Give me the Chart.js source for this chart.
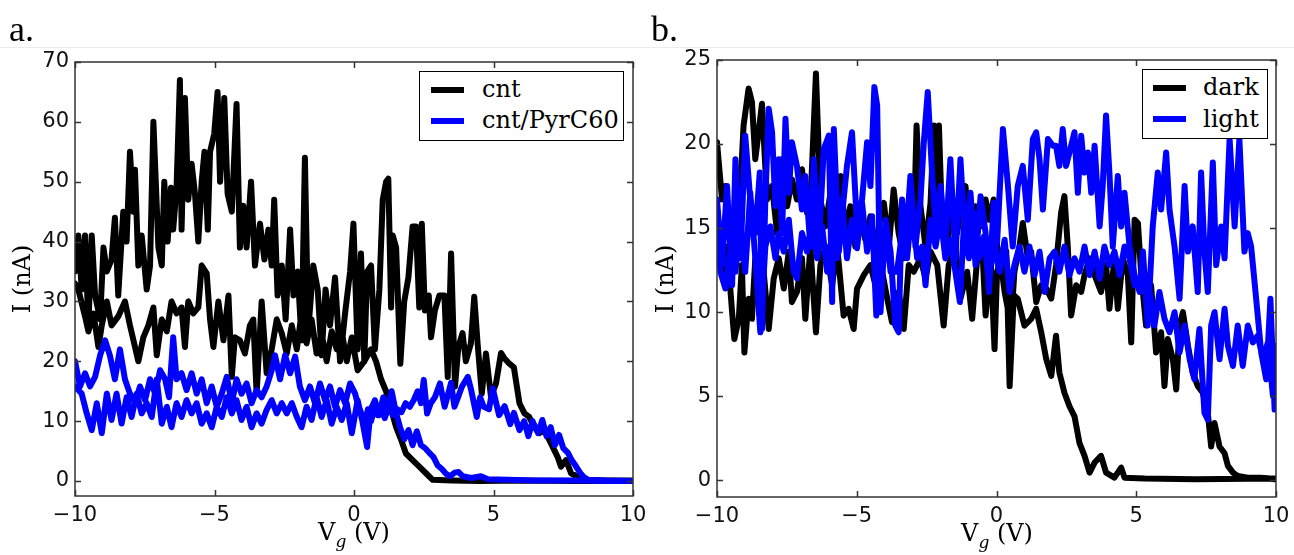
<!DOCTYPE html>
<html>
<head>
<meta charset="utf-8">
<title>I vs Vg sweeps</title>
<script src="https://cdn.jsdelivr.net/npm/chart.js@4.4.1/dist/chart.umd.min.js"></script>
<style>
  html, body { margin: 0; padding: 0; background: #fff; }
  #page { position: relative; width: 1294px; height: 555px; overflow: hidden; }
  canvas { position: absolute; top: 0; }
  .rule { position: absolute; left: 0; top: 47px; width: 1294px; height: 1px; background: #ececec; }
  .tag { position: absolute; font: 36px 'Liberation Serif', serif; line-height: 36px; color: #000; }
  .ylab, .xlab { position: absolute; font: 24px 'DejaVu Serif', serif; line-height: 24px; white-space: nowrap; color: #000; }
  .ylab { transform: translate(-50%, -50%) rotate(-90deg); }
  .xlab { transform: translateX(-50%); }
  .xlab i { font-size: 17px; position: relative; top: 7px; }
  .legend { position: absolute; background: #fff; border: 1px solid #000; box-sizing: border-box; }
  .legend .swatch { position: absolute; left: 11px; width: 33px; height: 6px; }
  .legend .txt { position: absolute; font: 24px 'DejaVu Serif', serif; line-height: 24px; white-space: nowrap; color: #000; }
</style>
</head>
<body>
<div id="page">
  <div class="rule"></div>
  <canvas id="chartA" width="647" height="555" style="left:0"></canvas>
  <canvas id="chartB" width="647" height="555" style="left:647px"></canvas>

  <div class="tag" style="left:9px;top:11px">a.</div>
  <div class="tag" style="left:651px;top:11px">b.</div>

  <div class="ylab" style="left:22px;top:279px">I (nA)</div>
  <div class="ylab" style="left:665px;top:279px">I (nA)</div>
  <div class="xlab" style="left:354px;top:520px">V<i>g</i> (V)</div>
  <div class="xlab" style="left:997px;top:521px">V<i>g</i> (V)</div>

  <div class="legend" style="left:419px;top:71px;width:205px;height:70px">
    <span class="swatch" style="top:15px;background:#000"></span>
    <span class="txt" style="left:62px;top:5px">cnt</span>
    <span class="swatch" style="top:46px;background:#0000ff"></span>
    <span class="txt" style="left:62px;top:36px">cnt/PyrC60</span>
  </div>
  <div class="legend" style="left:1142px;top:69px;width:126px;height:70px">
    <span class="swatch" style="left:10px;top:15px;background:#000"></span>
    <span class="txt" style="left:60px;top:5px">dark</span>
    <span class="swatch" style="left:10px;top:46px;background:#0000ff"></span>
    <span class="txt" style="left:60px;top:37px">light</span>
  </div>
</div>

<script>
// tick positions
const xTicks = [-10, -5, 0, 5, 10];
const aYTicks = [0, 10, 20, 30, 40, 50, 60, 70];
const bYTicks = [0, 5, 10, 15, 20, 25];

// panel a : [Vg (V), I (nA)] , sweep up then back down
const aCntUp = [
  [-10,35],[-9.88,41],[-9.76,32],[-9.64,41],[-9.52,26],[-9.40,41],[-9.28,31],[-9.10,27],[-8.98,39],[-8.86,35],
  [-8.69,37],[-8.57,44],[-8.45,31],[-8.27,45],[-8.15,40],[-8.03,55],[-7.91,45],[-7.85,52],[-7.73,36],[-7.61,41],
  [-7.43,32],[-7.31,36],[-7.19,60],[-7.01,39],[-6.89,36],[-6.80,50],[-6.68,40],[-6.56,49],[-6.48,42],[-6.36,49],
  [-6.24,67],[-6.18,42],[-6.06,64],[-5.94,47],[-5.82,53],[-5.70,48],[-5.58,40],[-5.46,50],[-5.36,55],[-5.24,42],
  [-5.16,55],[-5.01,58],[-4.89,65],[-4.80,50],[-4.65,64],[-4.53,48],[-4.38,45],[-4.21,63],[-4.09,39],[-3.97,46],
  [-3.85,39],[-3.69,50],[-3.55,36],[-3.37,43],[-3.21,37],[-3.07,42],[-2.95,36],[-2.86,47],[-2.74,31],[-2.59,36],
  [-2.45,27],[-2.29,42],[-2.17,31],[-2.02,35],[-1.88,23.5],[-1.76,54],[-1.64,25],[-1.46,36],[-1.30,32],[-1.16,21],
  [-1.02,32],[-0.86,26],[-0.68,34],[-0.50,20],[-0.32,28],[-0.14,35],[-0.02,43],[0.13,22],[0.25,38],[0.37,20],
  [0.47,35],[0.61,36],[0.75,22],[0.91,32],[1.03,47],[1.15,50],[1.23,50.5],[1.33,29],[1.39,41],[1.51,39],
  [1.66,19.6],[1.80,30],[1.95,34],[2.10,42.5],[2.22,42.5],[2.34,29],[2.43,43],[2.54,28.5],[2.68,31],[2.76,24],
  [2.90,28.5],[3.06,31],[3.24,31],[3.36,17.4],[3.48,38],[3.62,15.8],[3.74,22.4],[3.89,24.7],[4.01,20],[4.19,23],
  [4.31,30.8],[4.43,23],[4.58,14.6],[4.73,21.3],[4.91,14.1],[5.09,16.3],[5.27,21.4],[5.39,20.5],[5.57,19.6],[5.73,19],
  [5.93,13],[6.11,11.3],[6.28,10.7],[6.46,9],[6.64,8],[6.82,8.5],[7.06,6.3],[7.30,4],[7.42,2.4],[7.60,3.5],
  [7.78,1.3],[8.02,0.7],[8.26,0.2],[9.0,0.1],[10,0.1]
];
const aCntDown = [
  [-10,33],[-9.88,32],[-9.64,27.5],[-9.52,25],[-9.34,28],[-9.16,22.4],[-9.04,26],[-8.86,30],[-8.69,26],[-8.45,27.5],
  [-8.21,30],[-8.03,26],[-7.85,22.4],[-7.73,20],[-7.55,24],[-7.37,26],[-7.19,29],[-7.07,21],[-6.89,27],[-6.71,25],
  [-6.54,30],[-6.36,28],[-6.18,29],[-6.06,22.4],[-5.94,30],[-5.76,28],[-5.58,29],[-5.46,36],[-5.28,34.7],[-5.16,27],
  [-5.04,22.4],[-4.86,30],[-4.68,23.5],[-4.50,31],[-4.38,17.4],[-4.27,24],[-4.09,23.5],[-3.91,21.3],[-3.73,26],[-3.61,27],
  [-3.49,14.6],[-3.31,30],[-3.13,18],[-2.95,22],[-2.77,27],[-2.59,24.7],[-2.41,21.3],[-2.23,26],[-2.05,22],[-1.88,28],
  [-1.70,23],[-1.52,27],[-1.34,21.3],[-1.16,24.7],[-0.98,20],[-0.80,25],[-0.62,22],[-0.44,25],[-0.26,20],[-0.08,24],
  [0.13,18.5],[0.37,20],[0.61,22],[0.79,20],[0.97,17],[1.15,15],[1.33,12],[1.51,9],[1.68,7],[1.86,4.6],
  [2.10,3.5],[2.34,2.4],[2.58,1.3],[2.82,0.2],[3.5,0.1],[4.5,0],[6,0.1],[8,0],[10,0]
];
const aPyrUp = [
  [-10,20],[-9.82,15.8],[-9.64,18],[-9.46,15.8],[-9.28,17.4],[-9.10,21],[-8.92,23.5],[-8.75,21],[-8.57,17],[-8.39,22],
  [-8.21,17],[-8.03,14.6],[-7.85,13],[-7.67,15.8],[-7.49,13.5],[-7.31,17],[-7.13,14.6],[-6.95,18.5],[-6.77,17],[-6.63,14],
  [-6.48,24],[-6.36,17],[-6.18,18],[-6.00,15.2],[-5.82,18],[-5.64,14.6],[-5.46,17],[-5.28,13],[-5.10,15.8],[-4.92,12.4],
  [-4.74,14.6],[-4.56,17.4],[-4.38,13],[-4.21,17],[-4.03,14.6],[-3.85,16.3],[-3.67,13],[-3.49,15.2],[-3.31,14],[-3.13,15.8],
  [-2.95,18.5],[-2.83,21],[-2.65,17],[-2.47,21],[-2.29,18],[-2.11,20.8],[-1.94,15.8],[-1.76,13.5],[-1.58,15.8],[-1.40,13],
  [-1.22,16.3],[-1.04,13.5],[-0.86,15.8],[-0.68,12.4],[-0.50,15.2],[-0.32,13],[-0.14,16.3],[0.04,14.6],[0.13,13],[0.25,11.5],
  [0.37,9],[0.5,12],[0.61,10],[0.75,12.5],[0.85,11],[1.0,12.5],[1.1,10.5],[1.25,12.5],[1.4,11],[1.55,12],
  [1.7,11.5],[1.85,13],[2.0,12.4],[2.14,13.5],[2.28,15],[2.4,13],[2.5,16.9],[2.62,11.3],[2.75,13],[2.9,14],
  [3.08,16.3],[3.25,12.4],[3.48,16.4],[3.6,12.4],[3.73,14],[3.87,15.8],[4.08,17.4],[4.2,15.2],[4.4,10.7],[4.52,14],
  [4.65,12.4],[4.84,12],[4.97,15.5],[5.2,11],[5.4,12.5],[5.6,9.5],[5.73,11.4],[5.93,8.5],[6.1,10],[6.25,7.5],
  [6.4,10],[6.6,8],[6.75,10.2],[6.9,7.5],[7.05,9],[7.2,6],[7.35,7.7],[7.5,5.5],[7.67,4.7],[7.8,3.5],
  [7.95,2.5],[8.1,1.4],[8.25,0.6],[8.4,0.2],[9,0.1],[10,0]
];
const aPyrDown = [
  [-10,15.8],[-9.76,14.6],[-9.58,11.3],[-9.40,8.5],[-9.22,13],[-9.04,8],[-8.86,14.6],[-8.69,10.2],[-8.51,14.6],[-8.33,9.6],
  [-8.15,14],[-7.97,10.7],[-7.79,14.6],[-7.61,11.3],[-7.43,13],[-7.25,10.7],[-7.07,17],[-6.89,9.6],[-6.71,12.4],[-6.54,9],
  [-6.36,13],[-6.18,10.7],[-6.00,13.5],[-5.82,11.3],[-5.64,13],[-5.46,9.6],[-5.28,11.3],[-5.10,9],[-4.92,12.4],[-4.74,10.7],
  [-4.56,14],[-4.38,11.3],[-4.21,13.5],[-4.03,10.2],[-3.85,12.4],[-3.67,9],[-3.49,11.3],[-3.31,9.6],[-3.13,11.9],[-2.95,13.5],
  [-2.77,11.3],[-2.59,13],[-2.41,11.3],[-2.23,13],[-2.05,10.7],[-1.88,9],[-1.70,12.4],[-1.52,10.2],[-1.34,14],[-1.16,10.7],
  [-0.98,13.5],[-0.80,9.6],[-0.62,12.4],[-0.44,10.2],[-0.26,13],[-0.08,8],[0.13,13.5],[0.3,10],[0.47,5.7],[0.6,12],
  [0.75,13.5],[0.9,11],[1.05,14],[1.2,12],[1.35,15],[1.5,11.5],[1.65,9],[1.8,7],[1.95,8.5],[2.1,6],
  [2.25,8.3],[2.4,6],[2.55,5.5],[2.7,4.7],[2.85,4],[3.0,2.6],[3.15,2],[3.3,1.2],[3.45,0.8],[3.6,1.4],
  [3.75,1.5],[3.9,0.8],[4.2,0.5],[4.55,0.8],[4.8,0.3],[5.5,0.2],[6.5,0.1],[8,0.1],[9,0],[10,0]
];

// panel b
const bDarkUp = [
  [-10,20.1],[-9.82,16.7],[-9.70,17.5],[-9.52,13.9],[-9.34,15.5],[-9.16,17.5],[-9.05,21.1],[-8.87,23.3],[-8.75,22.5],[-8.63,19.1],
  [-8.54,20.3],[-8.39,22.4],[-8.21,16.7],[-8.03,17.5],[-7.85,14.7],[-7.67,19.1],[-7.49,16.3],[-7.32,17.9],[-7.14,16.7],[-6.96,18.5],
  [-6.78,15.9],[-6.63,17.5],[-6.46,24.2],[-6.30,16.7],[-6.12,15.1],[-5.94,17.1],[-5.76,15.5],[-5.58,18.1],[-5.41,14.7],[-5.23,16.3],
  [-5.05,13.9],[-4.87,15.5],[-4.69,14.3],[-4.51,15.7],[-4.33,13.6],[-4.15,15.7],[-4.03,16.5],[-3.85,13.9],[-3.68,17.3],[-3.50,14.7],
  [-3.32,13.2],[-3.14,15.5],[-2.96,14.7],[-2.86,21.1],[-2.72,16.3],[-2.54,13.9],[-2.36,16.5],[-2.24,21.1],[-2.12,17.2],[-2.06,21.1],[-1.95,15.5],
  [-1.77,13.9],[-1.59,16.7],[-1.41,14.7],[-1.23,16.7],[-1.11,17.5],[-0.93,13.9],[-0.75,16.3],[-0.57,15.1],[-0.39,16.7],[-0.27,15.5],
  [-0.10,16.7],[0.02,13.9],[0.11,13.5],[0.29,11.2],[0.52,9.2],[0.64,12.4],[0.82,13.9],[0.94,15.3],[1.12,13.2],[1.24,13.6],
  [1.42,10.6],[1.60,11.6],[1.78,11.4],[1.96,10.8],[2.13,12.8],[2.31,15.9],[2.43,16.9],[2.55,13.9],[2.67,9.8],[2.85,11.6],
  [3.03,11.2],[3.15,12.2],[3.33,13.2],[3.51,12.2],[3.74,11.2],[3.92,12.8],[4.04,10.2],[4.22,13.2],[4.34,10.2],[4.52,13.2],
  [4.70,12.2],[4.82,8.2],[4.94,15.5],[5.06,15.3],[5.18,12.2],[5.35,9.2],[5.53,11.6],[5.71,7.6],[5.89,8.8],[6.01,5.6],
  [6.13,8.4],[6.31,7.2],[6.43,5.4],[6.55,9.2],[6.67,10.0],[6.85,8.0],[7.02,6.4],[7.20,5.6],[7.38,5.2],[7.56,4.0],
  [7.68,2.0],[7.80,3.4],[7.98,2.0],[8.16,1.6],[8.28,0.85],[8.46,0.45],[8.63,0.25],[8.99,0.15],[9.47,0.15],[9.95,0.06],[10,0.1]
];
const bDarkDown = [
  [-10,15.5],[-9.82,12.4],[-9.64,13.9],[-9.46,10.0],[-9.38,8.4],[-9.22,9.6],[-9.11,12.8],[-9.02,7.6],[-8.87,10.8],[-8.75,9.6],
  [-8.63,13.2],[-8.47,9.8],[-8.33,12.4],[-8.15,9.0],[-7.97,12.0],[-7.79,13.2],[-7.61,11.4],[-7.43,13.6],[-7.32,10.6],[-7.14,11.2],
  [-6.96,13.2],[-6.84,9.6],[-6.66,13.9],[-6.46,8.8],[-6.30,12.8],[-6.12,13.9],[-5.88,11.6],[-5.70,13.9],[-5.47,9.8],[-5.29,10.2],
  [-5.11,9.0],[-4.99,11.4],[-4.75,12.2],[-4.51,12.8],[-4.27,11.2],[-4.09,12.4],[-3.91,10.8],[-3.74,9.4],[-3.50,11.2],[-3.32,9.0],
  [-3.14,12.8],[-2.96,12.4],[-2.72,13.2],[-2.54,12.0],[-2.36,13.6],[-2.12,12.8],[-1.89,9.2],[-1.71,12.8],[-1.47,13.9],[-1.29,10.8],
  [-1.05,12.4],[-0.87,9.6],[-0.69,13.2],[-0.51,13.9],[-0.39,9.8],[-0.21,13.2],[-0.07,7.8],[0.02,12.4],[0.17,13.2],[0.35,13.6],
  [0.47,5.6],[0.62,11.0],[0.76,10.8],[1.00,9.2],[1.24,9.6],[1.42,10.2],[1.60,8.8],[1.78,7.2],[1.96,6.2],[2.13,8.6],
  [2.25,6.4],[2.43,5.2],[2.61,4.4],[2.79,3.8],[2.97,2.2],[3.15,1.45],[3.33,0.45],[3.51,1.05],[3.74,1.45],[3.92,0.45],
  [4.22,0.15],[4.46,0.75],[4.58,0.15],[5.3,0.1],[7.1,0.05],[10,0.1]
];
const bLightUp = [
  [-10,16.7],[-9.82,12.8],[-9.64,17.5],[-9.46,11.6],[-9.34,19.1],[-9.16,13.2],[-8.99,20.5],[-8.81,16.7],[-8.63,14.7],[-8.47,18.3],
  [-8.39,9.0],[-8.27,16.7],[-8.15,22.1],[-8.03,20.7],[-7.91,16.3],[-7.79,19.1],[-7.67,14.7],[-7.55,21.5],[-7.43,17.1],[-7.32,20.1],
  [-7.14,18.7],[-6.96,16.1],[-6.84,18.1],[-6.66,13.9],[-6.54,19.1],[-6.36,13.9],[-6.18,19.7],[-6.00,20.5],[-5.88,10.6],[-5.82,20.9],
  [-5.64,13.6],[-5.47,16.7],[-5.35,18.7],[-5.17,20.7],[-4.99,15.1],[-4.81,16.7],[-4.63,20.1],[-4.51,17.5],[-4.37,23.4],[-4.27,22.3],
  [-4.15,10.0],[-3.97,15.5],[-3.79,13.6],[-3.62,9.2],[-3.50,8.8],[-3.38,16.7],[-3.26,13.9],[-3.08,18.1],[-2.90,13.9],[-2.72,16.7],
  [-2.60,20.1],[-2.46,23.1],[-2.30,18.1],[-2.18,15.1],[-2.00,17.5],[-1.83,13.9],[-1.65,19.1],[-1.47,13.2],[-1.29,19.1],[-1.11,13.9],
  [-0.93,17.1],[-0.75,12.8],[-0.57,16.9],[-0.39,14.7],[-0.27,11.2],[-0.10,16.5],[0.02,14.1],[0.23,20.9],[0.41,17.5],[0.58,13.9],
  [0.76,17.5],[0.94,18.7],[1.12,15.5],[1.30,20.3],[1.42,20.7],[1.54,19.1],[1.66,16.1],[1.84,20.3],[2.02,19.9],[2.13,19.9],
  [2.25,18.7],[2.37,20.9],[2.49,18.7],[2.61,19.5],[2.79,20.7],[2.91,17.1],[3.03,20.5],[3.15,18.3],[3.27,19.5],[3.39,17.1],
  [3.51,19.9],[3.69,15.1],[3.80,17.5],[3.92,21.7],[4.04,18.3],[4.16,13.9],[4.34,18.1],[4.46,15.1],[4.58,17.1],[4.76,13.9],
  [4.94,12.2],[5.12,11.2],[5.24,13.6],[5.41,9.2],[5.59,15.1],[5.77,18.3],[5.89,16.1],[6.07,19.5],[6.19,16.1],[6.37,13.9],
  [6.55,10.8],[6.73,17.5],[6.85,13.6],[7.02,15.1],[7.20,11.2],[7.32,18.3],[7.44,13.6],[7.56,11.2],[7.74,18.9],[7.86,12.8],
  [8.04,15.1],[8.16,13.2],[8.34,20.3],[8.52,15.1],[8.69,20.3],[8.87,13.6],[8.99,14.7],[9.11,13.9],[9.29,10.8],[9.47,7.6],
  [9.65,6.0],[9.80,10.8],[9.95,4.2]
];
const bLightDown = [
  [-10,15.5],[-9.88,12.4],[-9.70,11.4],[-9.52,13.9],[-9.34,12.4],[-9.16,15.5],[-8.99,12.4],[-8.81,17.1],[-8.63,13.2],[-8.45,8.8],
  [-8.27,13.9],[-8.09,15.1],[-7.91,13.2],[-7.79,14.7],[-7.61,13.6],[-7.43,15.5],[-7.26,12.4],[-7.14,12.0],[-6.96,14.7],[-6.78,13.6],
  [-6.60,15.5],[-6.42,13.2],[-6.24,15.1],[-6.06,12.4],[-5.88,14.7],[-5.70,13.2],[-5.53,16.7],[-5.35,13.2],[-5.17,15.5],[-4.99,13.8],
  [-4.81,16.5],[-4.63,13.6],[-4.45,15.7],[-4.30,9.8],[-4.15,13.9],[-3.97,15.1],[-3.79,12.4],[-3.56,12.4],[-3.38,14.7],[-3.20,13.2],
  [-3.02,16.3],[-2.84,13.2],[-2.66,13.9],[-2.54,11.6],[-2.36,15.5],[-2.18,13.9],[-2.00,15.7],[-1.83,13.2],[-1.65,14.3],[-1.47,12.4],
  [-1.31,10.6],[-1.17,15.1],[-0.99,13.2],[-0.81,15.9],[-0.63,13.2],[-0.45,14.5],[-0.27,11.6],[-0.10,15.1],[0.02,13.0],[0.11,12.4],
  [0.29,14.3],[0.47,11.2],[0.64,12.8],[0.82,13.9],[1.00,12.4],[1.18,13.9],[1.36,12.2],[1.54,13.6],[1.72,11.2],[1.90,13.2],
  [2.08,13.6],[2.25,12.4],[2.43,13.9],[2.61,12.2],[2.79,13.2],[2.97,12.4],[3.15,13.9],[3.33,12.2],[3.51,13.6],[3.69,12.0],
  [3.86,13.9],[4.04,12.8],[4.22,13.6],[4.40,12.2],[4.58,13.9],[4.76,13.2],[4.94,11.6],[5.12,12.0],[5.30,11.2],[5.47,11.4],
  [5.65,9.2],[5.83,11.2],[6.01,9.6],[6.19,8.8],[6.37,10.0],[6.55,7.6],[6.73,9.2],[6.91,7.2],[7.08,6.0],[7.26,9.0],
  [7.44,4.0],[7.56,3.6],[7.68,9.2],[7.80,10.0],[7.98,7.2],[8.16,10.2],[8.28,8.0],[8.46,6.8],[8.63,9.2],[8.81,6.8],
  [8.99,9.2],[9.17,8.2],[9.35,8.6],[9.53,7.2],[9.71,8.2],[9.89,5.0],[10,8.0]
];

// forward sweep then the return sweep, drawn as one trace
function sweepLoop(up, down) {
  return up.concat(down.slice().reverse()).map(p => ({x: p[0], y: p[1]}));
}

function fmtTick(v) {
  return v < 0 ? '\u2212' + Math.abs(v) : String(v);
}

// box frame + inward ticks on all four sides, like the matplotlib axes
const frameTicks = {
  id: 'frameTicks',
  afterDatasetsDraw(chart) {
    const ctx = chart.ctx;
    const area = chart.chartArea;
    const sx = chart.scales.x, sy = chart.scales.y;
    ctx.save();
    ctx.strokeStyle = '#333';
    ctx.lineWidth = 1.5;
    ctx.beginPath();
    sx.ticks.forEach(t => {
      const px = Math.round(sx.getPixelForValue(t.value)) + 0.5;
      ctx.moveTo(px, area.bottom); ctx.lineTo(px, area.bottom - 6);
      ctx.moveTo(px, area.top); ctx.lineTo(px, area.top + 6);
    });
    sy.ticks.forEach(t => {
      const py = Math.round(sy.getPixelForValue(t.value)) + 0.5;
      ctx.moveTo(area.left, py); ctx.lineTo(area.left + 6, py);
      ctx.moveTo(area.right, py); ctx.lineTo(area.right - 6, py);
    });
    ctx.stroke();
    ctx.strokeRect(area.left, area.top, area.right - area.left, area.bottom - area.top);
    ctx.restore();
  }
};

function drawPanel(canvasId, traces, yMin, yMax, yTicks, box) {
  const tickFont = {family: "'DejaVu Sans'", size: 21};
  return new Chart(document.getElementById(canvasId), {
    type: 'line',
    data: {
      datasets: traces.map(t => ({
        label: t.label,
        data: t.data,
        borderColor: t.color,
        backgroundColor: t.color,
        borderWidth: 6,
        borderJoinStyle: 'round',
        borderCapStyle: 'round',
        pointRadius: 0,
        tension: 0,
        fill: false,
        order: t.order,
        clip: 0
      }))
    },
    options: {
      responsive: false,
      animation: false,
      events: [],
      layout: {padding: {left: 0, top: box.top, right: box.right, bottom: 0}},
      plugins: {legend: {display: false}, tooltip: {enabled: false}},
      scales: {
        x: {
          type: 'linear', min: -10, max: 10,
          grid: {display: false, drawTicks: false},
          border: {display: false},
          ticks: {font: tickFont, color: '#111', padding: 7, maxRotation: 0, autoSkip: false, callback: fmtTick},
          afterBuildTicks: s => { s.ticks = xTicks.map(v => ({value: v})); },
          afterFit: s => { s.height = box.xAxisH; s.paddingLeft = 0; s.paddingRight = 0; }
        },
        y: {
          type: 'linear', min: yMin, max: yMax,
          grid: {display: false, drawTicks: false},
          border: {display: false},
          ticks: {font: tickFont, color: '#111', padding: 6, autoSkip: false, callback: fmtTick},
          afterBuildTicks: s => { s.ticks = yTicks.map(v => ({value: v})); },
          afterFit: s => { s.width = box.yAxisW; s.paddingTop = 0; s.paddingBottom = 0; }
        }
      }
    },
    plugins: [frameTicks]
  });
}

drawPanel('chartA', [
  {label: 'cnt', data: sweepLoop(aCntUp, aCntDown), color: '#000000', order: 2},
  {label: 'cnt/PyrC60', data: sweepLoop(aPyrUp, aPyrDown), color: '#0000ff', order: 1}
], -2.5, 70, aYTicks, {top: 62, right: 14, xAxisH: 59, yAxisW: 75});

drawPanel('chartB', [
  {label: 'dark', data: sweepLoop(bDarkUp, bDarkDown), color: '#000000', order: 2},
  {label: 'light', data: sweepLoop(bLightUp, bLightDown), color: '#0000ff', order: 1}
], -1, 25, bYTicks, {top: 60, right: 18, xAxisH: 58, yAxisW: 70});
</script>
</body>
</html>
